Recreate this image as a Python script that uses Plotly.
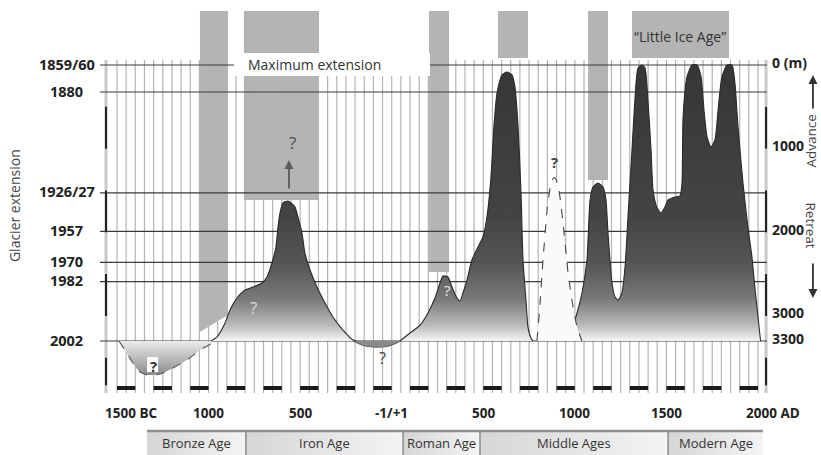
import plotly.graph_objects as go

# ---------------- data ----------------
ref_labels = ["1859/60", "1880", "1926/27", "1957", "1970", "1982", "2002"]
ref_m = [0, 323, 1530, 1990, 2360, 2590, 3300]

depth_ticks = [0, 1000, 2000, 3000, 3300]
depth_labels = ["0 (m)", "1000", "2000", "3000", "3300"]

year_ticks = [-1500, -1000, -500, 0, 500, 1000, 1500, 2000]
year_labels = ["1500 BC", "1000", "500", "-1/+1", "500", "1000", "1500", "2000 AD"]

ages = ["Bronze Age", "Iron Age", "Roman Age", "Middle Ages", "Modern Age"]
age_start = [-1336, -796, 62, 482, 1509]
age_end = [-796, 62, 482, 1509, 2027]

# grey shaded periods (years) with top / bottom extent in metres
shade_start = [-1047, -807, 204, 580, 1072, 1312]
shade_end = [-894, -397, 313, 744, 1181, 1842]
shade_bottom_left = [3192, 1614, 2475, -84, 1375, -84]
shade_bottom_right = [2989, 1614, 2475, -84, 1375, -84]
shade_top = -646

# glacier extension curves (year, metres of retreat relative to 1859/60)
bronze_years = [-1489, -1447, -1413, -1374, -1331, -1265, -1194, -1118, -1047, -981, -976]
bronze_m = [3300, 3444, 3563, 3671, 3707, 3695, 3623, 3527, 3408, 3324, 3300]

iron_years = [-985, -954, -910, -883, -845, -801, -757, -708, -681, -654, -632, -621, -610,
              -594, -566, -528, -512, -490, -474, -446, -408, -364, -321, -266, -211, -190]
iron_m = [3300, 3252, 3085, 2929, 2786, 2690, 2655, 2607, 2535, 2367, 2176, 1937, 1770,
          1650, 1626, 1698, 1817, 2009, 2248, 2451, 2655, 2846, 3013, 3169, 3288, 3300]

roman_dip_years = [-211, -160, -102, -26, 20, 45]
roman_dip_m = [3300, 3350, 3372, 3365, 3330, 3300]

roman_years = [45, 100, 155, 198, 236, 264, 280, 307, 329, 356, 373, 389, 411, 438, 471, 498,
               520, 542, 558, 575, 602, 629, 657, 673, 690, 706, 717, 733, 744, 760, 771]
roman_m = [3300, 3204, 3109, 2965, 2786, 2606, 2523, 2535, 2654, 2786, 2822, 2726, 2571, 2332,
           2176, 2057, 1817, 1339, 741, 335, 120, 84, 120, 263, 741, 1530, 2332, 2810, 3133,
           3264, 3300]

uncertain_years = [793, 810, 826, 850, 865, 878, 886, 895, 908, 921, 941, 963, 984, 1001, 1017, 1039]
uncertain_m = [3300, 2846, 2332, 1700, 1470, 1370, 1345, 1360, 1440, 1614, 2009, 2487, 2810, 3025,
               3169, 3300]

late_years = [946, 984, 1012, 1039, 1066, 1083, 1099, 1126, 1154, 1170, 1181, 1203, 1219, 1236,
              1257, 1274, 1290, 1312, 1328, 1345, 1367, 1383, 1399, 1416, 1427, 1449, 1470, 1492,
              1509, 1547, 1574, 1585, 1591, 1612, 1640, 1667, 1689, 1705, 1722, 1743, 1765, 1782,
              1803, 1831, 1858, 1874, 1891, 1918, 1945, 1967, 1984, 2000, 2014]
late_m = [3300, 3145, 2965, 2726, 2332, 1614, 1459, 1411, 1459, 1614, 2009, 2607, 2774, 2810,
          2726, 2415, 1817, 1016, 418, 36, 0, 36, 418, 1016, 1495, 1710, 1770, 1698,
          1614, 1578, 1566, 1411, 622, 143, 0, 0, 143, 538, 861, 980, 897, 538,
          143, 0, 0, 215, 741, 1411, 1937, 2296, 2690, 3013, 3300]

# ---------------- layout constants ----------------
X_RANGE = [-2138.8, 2344.0]
Y_RANGE = [4663, -777.2]
LEFT_AXIS, RIGHT_AXIS = -1560, 2044
LINE_X0, LINE_X1 = -1593, 2049
GRID_TOP, GRID_BOTTOM = -60, 3922
DASH_Y = 3862
FONT = "Open Sans"

fig = go.Figure()

# vertical grid (every 50 years)
gx, gy = [], []
for yr in range(-1500, 2001, 50):
    gx += [yr, yr, None]
    gy += [GRID_TOP, GRID_BOTTOM, None]
fig.add_trace(go.Scatter(x=gx, y=gy, mode="lines", line=dict(color="#b4b4b4", width=1.2),
                         hoverinfo="skip", showlegend=False))

# side axis grey lines
for ax_x in (LEFT_AXIS, RIGHT_AXIS):
    fig.add_trace(go.Scatter(x=[ax_x, ax_x], y=[GRID_TOP, GRID_BOTTOM], mode="lines",
                             line=dict(color="#c9c9c9", width=3), hoverinfo="skip", showlegend=False))

# horizontal reference lines
hx, hy = [], []
for m in ref_m:
    hx += [LINE_X0, LINE_X1, None]
    hy += [m, m, None]
fig.add_trace(go.Scatter(x=hx, y=hy, mode="lines", line=dict(color="#3a3a3a", width=1.2),
                         hoverinfo="skip", showlegend=False))

# black axis segments
sx, sy = [], []
for ax_x in (LEFT_AXIS, RIGHT_AXIS):
    for a, b in [(500, 1000), (1500, 2000), (2500, 3000), (3500, 3830)]:
        sx += [ax_x, ax_x, None]
        sy += [a, b, None]
fig.add_trace(go.Scatter(x=sx, y=sy, mode="lines", line=dict(color="#222", width=2),
                         hoverinfo="skip", showlegend=False))

# bottom century dashes
dx, dy = [], []
for k in range(18):
    dx += [-1500 + 200 * k, -1400 + 200 * k, None]
    dy += [DASH_Y, DASH_Y, None]
fig.add_trace(go.Scatter(x=dx, y=dy, mode="lines", line=dict(color="#1a1a1a", width=4),
                         hoverinfo="skip", showlegend=False))

curve_scale = [[0, "#363636"], [0.55, "#444444"], [0.72, "#555555"], [0.85, "#7a7a7a"],
               [0.94, "#b8b8b8"], [1, "#f4f4f4"]]

def curve(xs, ys, dash="solid", grad=None, fill=None, lc="#2a2a2a"):
    kw = dict(x=xs, y=ys, mode="lines", fill="toself",
              line=dict(color=lc, width=1.1, dash=dash, shape="spline", smoothing=0.6),
              hoverinfo="skip", showlegend=False)
    if grad is not None:
        kw["fillgradient"] = grad
    else:
        kw["fillcolor"] = fill
    fig.add_trace(go.Scatter(**kw))

main_grad = dict(type="vertical", colorscale=curve_scale, start=0, stop=3300)
curve(bronze_years, bronze_m, dash="dash", lc="#555",
      grad=dict(type="vertical", colorscale=[[0, "#ececec"], [1, "#8a8a8a"]], start=3300, stop=3710))
curve(iron_years, iron_m, grad=main_grad)
curve(roman_dip_years, roman_dip_m, fill="#8a8a8a", lc="#666")
curve(roman_years, roman_m, grad=main_grad)
curve(late_years, late_m, grad=main_grad)
curve(uncertain_years, uncertain_m, dash="dash", fill="#fafafa", lc="#444")

# age band cells
for name, a, b in zip(ages, age_start, age_end):
    fig.add_trace(go.Scatter(x=[a, b, b, a], y=[4376, 4376, 4663, 4663], mode="lines",
                             fill="toself", line=dict(width=0),
                             fillgradient=dict(type="horizontal",
                                               colorscale=[[0, "#d6d6d6"], [1, "#f4f4f4"]]),
                             hoverinfo="skip", showlegend=False))
bx, by = [], []
for a in age_start[1:]:
    bx += [a, a, None]
    by += [4376, 4663, None]
fig.add_trace(go.Scatter(x=bx, y=by, mode="lines", line=dict(color="#8a8a8a", width=1.5),
                         hoverinfo="skip", showlegend=False))
fig.add_trace(go.Scatter(x=[age_start[0], age_end[-1]], y=[4376, 4376], mode="lines",
                         line=dict(color="#8f8f8f", width=2.5), hoverinfo="skip", showlegend=False))

# shaded periods
shapes = []
for a, b, bl, br in zip(shade_start, shade_end, shade_bottom_left, shade_bottom_right):
    shapes.append(dict(type="path", xref="x", yref="y", layer="below",
                       path=f"M{a},{shade_top} L{b},{shade_top} L{b},{br} L{a},{bl} Z",
                       fillcolor="#b4b4b4", line=dict(width=0)))
# white label box
shapes.append(dict(type="rect", xref="x", yref="y", layer="above", x0=-861, x1=209,
                   y0=-143, y1=131, fillcolor="white", line=dict(width=0)))
# white box behind bronze "?"
shapes.append(dict(type="rect", xref="x", yref="y", layer="above", x0=-1336, x1=-1276,
                   y0=3491, y1=3671, fillcolor="white", line=dict(width=0)))

ann = []
def txt(x, y, t, size=14, color="#333", bold=False, xa="center", angle=0, yshift=0):
    ann.append(dict(x=x, y=y, xref="x", yref="y", text=f"<b>{t}</b>" if bold else t,
                    showarrow=False, xanchor=xa, yanchor="middle", textangle=angle,
                    yshift=yshift, font=dict(family=FONT, size=size, color=color)))

for lab, m in zip(ref_labels, ref_m):
    txt(-1773, m, lab, size=14.5, color="#222", bold=True, yshift=1)
for lab, m in zip(depth_labels, depth_ticks):
    txt(2065, m, lab, size=14, color="#222", bold=True, xa="left", yshift=3)
for lab, yr in zip(year_labels, year_ticks):
    if lab == "1500 BC":
        txt(-1576, 4161, lab, size=13.5, color="#222", bold=True, xa="left")
    elif lab == "2000 AD":
        txt(1923, 4161, lab, size=13.5, color="#222", bold=True, xa="left")
    else:
        txt(yr, 4161, lab, size=13.5, color="#222", bold=True)
for name, a, b in zip(ages, age_start, age_end):
    txt((a + b) / 2, 4520, name, size=13, color="#333")

txt(-796, -12, "Maximum extension", size=14, xa="left")
txt(1574, -335, "\u201cLittle Ice Age\u201d", size=14)
txt(-2062, 1686, "Glacier extension", size=14, color="#444", angle=-90)
txt(2292, 909, "Advance", size=13.5, color="#444", angle=-90)
txt(2292, 1925, "Retreat", size=13.5, color="#444", angle=90)

# question marks
txt(-1303, 3599, "?", size=15, color="#333", bold=True)
txt(-757, 2894, "?", size=17, color="#d8d8d8")
txt(-544, 921, "?", size=17, color="#4a4a4a")
txt(-53, 3503, "?", size=16, color="#444")
txt(307, 2690, "?", size=15, color="#e8e8e8")
txt(891, 1160, "?", size=15, color="#444", bold=True)

# arrows
for hx_, hy_, tx_, ty_, col in [(-561, 1136, -561, 1495, "#5a5a5a"),
                                (2300, 120, 2300, 538, "#333"),
                                (2300, 2786, 2300, 2355, "#333")]:
    ann.append(dict(x=hx_, y=hy_, ax=tx_, ay=ty_, xref="x", yref="y", axref="x", ayref="y",
                    text="", showarrow=True, arrowhead=2, arrowsize=1, arrowwidth=1.8,
                    arrowcolor=col))

fig.update_layout(
    width=821, height=455, margin=dict(l=0, r=0, t=0, b=0),
    paper_bgcolor="white", plot_bgcolor="white",
    xaxis=dict(range=X_RANGE, visible=False, domain=[0, 1]),
    yaxis=dict(range=Y_RANGE, visible=False, domain=[0, 1]),
    shapes=shapes, annotations=ann, showlegend=False,
)
fig.write_html("out.html", config={"displayModeBar": False},
               post_script="document.body.style.margin='0';document.body.style.overflow='hidden';")
